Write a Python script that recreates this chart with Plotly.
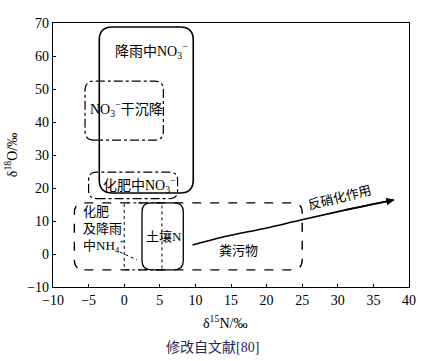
import plotly.graph_objects as go

# Source regions: name, x0, x1, y0, y1
region_names = ["降雨中NO3", "NO3干沉降", "化肥中NO3", "化肥及降雨中NH4", "NH4点框", "土壤N"]
region_x0 = [-3.5, -5.5, -5.0, -7.0, 0.0, 2.5]
region_x1 = [9.7, 5.5, 7.5, 25.0, 5.3, 8.3]
region_y0 = [18.5, 34.5, 16.8, -4.8, -4.8, -4.8]
region_y1 = [68.8, 52.4, 24.8, 15.5, 15.5, 15.5]

# Denitrification trend arrow
denit_x = [9.6, 14.0, 20.0, 24.8, 31.0, 37.9]
denit_y = [2.7, 5.2, 7.9, 10.3, 13.3, 16.4]

# Leader line from NH4+ label
leader_x = [-0.6, 1.8]
leader_y = [0.6, -1.8]

x_ticks = [-10, -5, 0, 5, 10, 15, 20, 25, 30, 35, 40]
y_ticks = [-10, 0, 10, 20, 30, 40, 50, 60, 70]

FONT = "'Liberation Serif', 'Times New Roman', 'DejaVu Serif', 'Noto Sans CJK SC', serif"

W, H = 428, 361
ML, MR, MT, MB = 53, 19, 23, 74
XR = (-10, 40)
YR = (-10, 70)
PW = W - ML - MR
PH = H - MT - MB
px_per_x = PW / (XR[1] - XR[0])
px_per_y = PH / (YR[1] - YR[0])


def rounded_path(x0, x1, y0, y1, r_px):
    rx = r_px / px_per_x
    ry = r_px / px_per_y
    return (f"M {x0+rx},{y0} L {x1-rx},{y0} Q {x1},{y0} {x1},{y0+ry} "
            f"L {x1},{y1-ry} Q {x1},{y1} {x1-rx},{y1} "
            f"L {x0+rx},{y1} Q {x0},{y1} {x0},{y1-ry} "
            f"L {x0},{y0+ry} Q {x0},{y0} {x0+rx},{y0} Z")


styles = [
    ("solid", 1.6, 13),
    ("dashdot", 1.2, 9),
    ("dashdot", 1.2, 8),
    ("dash", 1.4, 10),
    ("dot", 1.0, 2),
    ("solid", 1.3, 9),
]

fig = go.Figure()

shapes = []
for i in range(len(region_names)):
    dash, w, r = styles[i]
    shapes.append(dict(
        type="path",
        path=rounded_path(region_x0[i], region_x1[i], region_y0[i], region_y1[i], r),
        xref="x", yref="y",
        line=dict(color="black", width=w, dash=dash),
        fillcolor="rgba(0,0,0,0)",
    ))

fig.add_trace(go.Scatter(x=denit_x, y=denit_y, mode="lines",
                         line=dict(color="black", width=1.6, shape="spline"),
                         hoverinfo="skip", showlegend=False))
fig.add_trace(go.Scatter(x=leader_x, y=leader_y, mode="lines",
                         line=dict(color="black", width=1.0, dash="dot"),
                         hoverinfo="skip", showlegend=False))


def py(pix):
    """pixel row -> paper y"""
    return (H - MB - pix) / PH


def px(pix):
    return (pix - ML) / PW


F14 = dict(size=14, color="black", family=FONT)
annotations = [
    dict(x=denit_x[-1], y=denit_y[-1], ax=denit_x[-2], ay=denit_y[-2],
         xref="x", yref="y", axref="x", ayref="y", text="",
         showarrow=True, arrowhead=2, arrowsize=1.1, arrowwidth=1.4, arrowcolor="black"),
    dict(x=3.8, y=61.5, text="降雨中NO<sub>3</sub><sup>−</sup>", showarrow=False, font=F14),
    dict(x=0.3, y=44, text="NO<sub>3</sub><sup>−</sup>干沉降", showarrow=False, font=F14),
    dict(x=2.1, y=21, text="化肥中NO<sub>3</sub><sup>−</sup>", showarrow=False, font=F14),
    dict(x=-6.1, y=7.3, text="化肥<br>及降雨<br>中NH<sub>4</sub><sup>+</sup>", showarrow=False,
         xanchor="left", align="left"),
    dict(x=5.6, y=5.2, text="土壤N", showarrow=False),
    dict(x=16.0, y=1.2, text="粪污物", showarrow=False),
    dict(x=30.3, y=17.2, text="反硝化作用", showarrow=False, textangle=-14),
    dict(x=px(225), y=py(322), xref="paper", yref="paper", yanchor="middle",
         text="δ<sup>15</sup>N/‰", showarrow=False, font=dict(size=14, color="black", family=FONT)),
    dict(x=px(212), y=py(347), xref="paper", yref="paper", yanchor="middle",
         text="修改自文献[80]", showarrow=False, font=dict(size=14, color="#1f2a5a", family=FONT)),
]
for a in annotations:
    a.setdefault("xref", "x")
    a.setdefault("yref", "y")
    a.setdefault("font", dict(size=13, color="black", family=FONT))

fig.update_layout(
    width=W, height=H,
    margin=dict(l=ML, r=MR, t=MT, b=MB, autoexpand=False),
    paper_bgcolor="white", plot_bgcolor="white",
    shapes=shapes, annotations=annotations,
    showlegend=False,
    font=dict(family=FONT, size=13, color="black"),
    xaxis=dict(range=list(XR), tickvals=x_ticks, ticktext=[str(v).replace("-", "−") for v in x_ticks],
               ticks="inside", ticklen=3, tickcolor="black", showgrid=False, zeroline=False,
               showline=True, linecolor="black", linewidth=1.2, mirror=True, automargin=False,
               tickfont=dict(size=14, family=FONT)),
    yaxis=dict(range=list(YR), tickvals=y_ticks, ticktext=[str(v).replace("-", "−") for v in y_ticks],
               ticks="inside", ticklen=3, tickcolor="black", showgrid=False, zeroline=False,
               showline=True, linecolor="black", linewidth=1.2, mirror=True, automargin=False,
               tickfont=dict(size=14, family=FONT),
               title=dict(text="δ<sup>18</sup>O/‰", standoff=6, font=dict(size=14, family=FONT))),
)

fig.write_html("out.html", config={"displayModeBar": False},
               post_script="document.body.style.margin='0';")
